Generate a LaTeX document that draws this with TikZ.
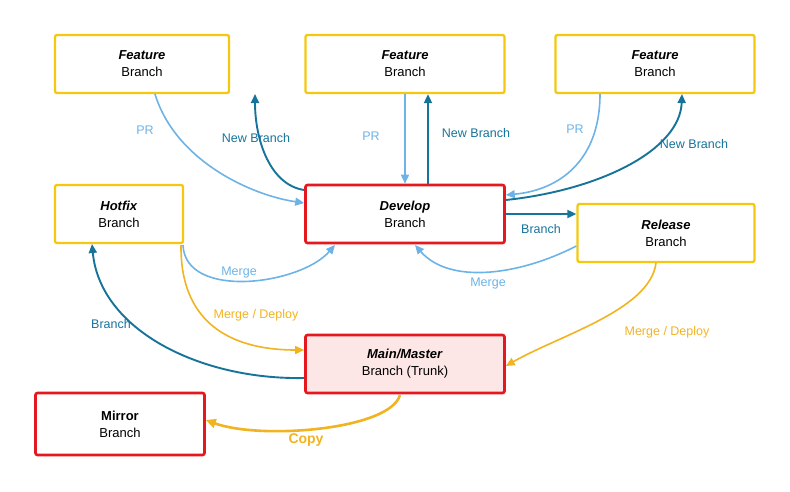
\documentclass[tikz,border=0pt]{standalone}
\usepackage{fontspec}
\setmainfont{Liberation Sans}
\usetikzlibrary{arrows.meta}
\definecolor{yel}{HTML}{F5C80F}
\definecolor{rd}{HTML}{E5171F}
\definecolor{dblue}{HTML}{16739A}
\definecolor{lblue}{HTML}{6DB3E6}
\definecolor{org}{HTML}{F2B320}
\definecolor{pink}{HTML}{FDE6E6}
\tikzset{
 box/.style={draw=yel,line width=2.3pt,rounded corners=2pt,minimum width=#1,minimum height=58pt,align=center,font=\fontsize{13}{17}\selectfont,fill=white},
 box/.default=174pt,
 rbox/.style={box=199pt,draw=rd,line width=2.6pt},
 lb/.style={-{Triangle[length=9pt,width=8pt]},lblue,line width=1.6pt},
 db/.style={-{Triangle[length=9pt,width=8pt]},dblue,line width=1.9pt},
 ob/.style={-{Triangle[length=9pt,width=8pt]},org,line width=1.6pt},
 lab/.style={font=\fontsize{12.5}{15}\selectfont,inner sep=1pt}
}
\begin{document}
\begin{tikzpicture}[x=1pt,y=-1pt]
\useasboundingbox (0,0) rectangle (790,491);
\node[box] (f1) at (142,64) {\textbf{\textit{Feature}}\\Branch};
\node[box=199pt] (f2) at (405,64) {\textbf{\textit{Feature}}\\Branch};
\node[box=199pt] (f3) at (655,64) {\textbf{\textit{Feature}}\\Branch};
\node[box=128pt] (hf) at (119,214) {\textbf{\textit{Hotfix}}\\Branch};
\node[rbox] (dv) at (405,214) {\textbf{\textit{Develop}}\\Branch};
\node[box=177pt] (rl) at (666,233) {\textbf{\textit{Release}}\\Branch};
\node[rbox,fill=pink] (mn) at (405,364) {\textbf{\textit{Main/Master}}\\Branch (Trunk)};
\node[box=169pt,draw=rd,line width=2.6pt,minimum height=62pt] (mr) at (120,424) {\textbf{Mirror}\\Branch};
% feature 1
\draw[lb] (155,94) .. controls (175,160) and (250,195) .. (dv.west|-0,203);
\draw[db] (dv.west|-0,190) .. controls (270,185) and (255,140) .. (255,94);
\node[lab,text=lblue] (l1) at (145,130) {PR};
\node[lab,text=dblue] (l2) at (256,138) {New Branch};
% feature 2
\draw[lb] (f2.south) -- (dv.north);
\draw[db] (dv.north)++(23,0) coordinate (a2) -- (a2|-f2.south);
\node[lab,text=lblue] (l3) at (371,136) {PR};
\node[lab,text=dblue] (l4) at (476,133) {New Branch};
% feature 3
\draw[lb] (600,94) .. controls (600,160) and (560,190) .. (dv.east|-0,195);
\draw[db] (dv.east|-0,200) .. controls (600,190) and (680,150) .. (682,94);
\node[lab,text=lblue] (l5) at (575,129) {PR};
\node[lab,text=dblue] (l6) at (694,144) {New Branch};
% release
\draw[db] (dv.east|-0,214) -- (rl.west|-0,214);
\node[lab,text=dblue] (l7) at (541,229) {Branch};
\draw[lb] (rl.west|-0,246) .. controls (520,275) and (450,285) .. (415,245);
\node[lab,text=lblue] (l8) at (488,283) {Merge};
\draw[ob] (656,263) .. controls (650,310) and (560,335) .. (mn.east|-0,366);
\node[lab,text=org] (l9) at (667,332) {Merge / Deploy};
% hotfix
\draw[lb] (183,245) .. controls (185,300) and (300,285) .. (335,245);
\node[lab,text=lblue] (l10) at (239,272) {Merge};
\draw[ob] (181,245) .. controls (180,330) and (240,350) .. (mn.west|-0,350);
\node[lab,text=org] (l11) at (256,315) {Merge / Deploy};
\draw[db] (mn.west|-0,378) .. controls (200,380) and (100,330) .. (92,244);
\node[lab,text=dblue] (l12) at (111,324) {Branch};
% copy
\draw[-{Triangle[length=10pt,width=9pt]},org,line width=2.6pt] (400,395) .. controls (390,430) and (260,440) .. (mr.east|-0,420);
\node[lab,text=org,font=\fontsize{14}{16}\selectfont\bfseries] (l13) at (306,440) {Copy};
\end{tikzpicture}
\end{document}
